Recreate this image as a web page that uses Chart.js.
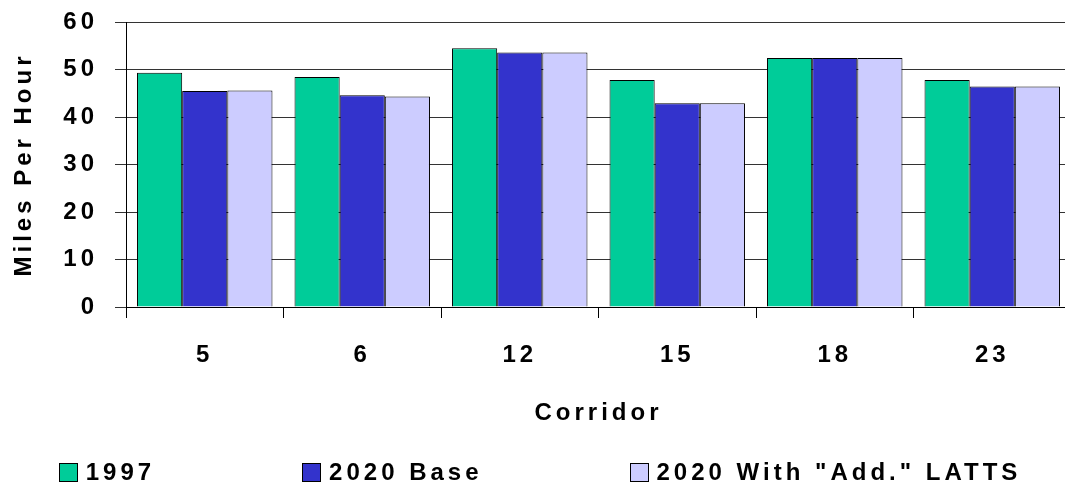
<!DOCTYPE html>
<html>
<head>
<meta charset="utf-8">
<style>
  html, body { margin: 0; padding: 0; background: #fff; overflow: hidden; }
  canvas { display: block; }
</style>
<script src="https://cdn.jsdelivr.net/npm/chart.js@4/dist/chart.umd.min.js"></script>
</head>
<body>
<canvas id="chart" width="1072" height="491" style="width:1072px;height:491px"></canvas>
<script>
// Average corridor speeds (mph)
const corridors = ['5', '6', '12', '15', '18', '23'];
const speed1997 = [49.3, 48.4, 54.5, 47.8, 52.4, 47.8];
const speed2020Base = [45.5, 44.6, 53.6, 42.9, 52.4, 46.4];
const speed2020Latts = [45.6, 44.3, 53.6, 42.9, 52.4, 46.4];
const seriesNames = ['1997', '2020 Base', '2020 With "Add." LATTS'];
const yTickValues = [0, 10, 20, 30, 40, 50, 60];

const seriesColors = ['#00CC99', '#3333CC', '#CCCCFF'];
const FONT_FAMILY = "'Liberation Sans', Arial, Helvetica, sans-serif";
const FONT_SIZE = 24;
const baseFont = { family: FONT_FAMILY, size: FONT_SIZE, weight: 'bold' };
const SPACING = '4px';

// Wide-tracked lettering for every text drawn on the canvas
const tracking = {
  id: 'tracking',
  beforeLayout(chart) { chart.ctx.letterSpacing = SPACING; },
  beforeDraw(chart) { chart.ctx.letterSpacing = SPACING; }
};

// Legend row under the axis title: square swatch + label, evenly gapped
const bottomLegend = {
  id: 'bottomLegend',
  afterDraw(chart, args, opts) {
    const ctx = chart.ctx;
    ctx.save();
    ctx.letterSpacing = SPACING;
    ctx.font = `bold ${FONT_SIZE}px ${FONT_FAMILY}`;
    ctx.textBaseline = 'middle';
    ctx.textAlign = 'left';
    const items = chart.data.datasets.map(ds => ({
      text: ds.label,
      color: ds.backgroundColor,
      width: opts.box + opts.boxGap + ctx.measureText(ds.label).width
    }));
    const total = items.reduce((s, it) => s + it.width, 0) + opts.gap * (items.length - 1);
    let x = opts.centerX - total / 2;
    const y = opts.centerY;
    items.forEach(it => {
      const bx = Math.round(x), by = Math.round(y - opts.box / 2);
      ctx.fillStyle = it.color;
      ctx.fillRect(bx, by, opts.box, opts.box);
      ctx.lineWidth = 1;
      ctx.strokeStyle = '#000';
      ctx.strokeRect(bx + 0.5, by + 0.5, opts.box, opts.box);
      ctx.fillStyle = '#000';
      ctx.fillText(it.text, x + opts.box + opts.boxGap, y + 1);
      x += it.width + opts.gap;
    });
    ctx.restore();
  }
};

const dataSeries = [speed1997, speed2020Base, speed2020Latts];

new Chart(document.getElementById('chart'), {
  type: 'bar',
  data: {
    labels: corridors,
    datasets: dataSeries.map((values, i) => ({
      label: seriesNames[i],
      data: values,
      backgroundColor: seriesColors[i],
      borderColor: '#000',
      borderWidth: 1,
      categoryPercentage: 0.86,
      barPercentage: 1.0
    }))
  },
  options: {
    responsive: false,
    animation: false,
    devicePixelRatio: 1,
    layout: { padding: { top: 22, right: 1, left: 0, bottom: 54 } },
    plugins: {
      legend: { display: false },
      tooltip: { enabled: false },
      bottomLegend: { centerX: 540, centerY: 472, box: 18, boxGap: 9, gap: 147 }
    },
    scales: {
      x: {
        offset: true,
        grid: { offset: true, drawOnChartArea: false, tickLength: 11, color: '#000', lineWidth: 1 },
        border: { color: '#000', width: 1 },
        ticks: { color: '#000', font: baseFont, padding: 23, maxRotation: 0, autoSkip: false },
        title: {
          display: true, text: 'Corridor', color: '#000',
          font: baseFont,
          padding: { top: 0, bottom: 9 }
        },
        afterFit(scale) {
          scale.height = 130;
          scale.paddingLeft = 0;
          scale.paddingRight = 0;
        }
      },
      y: {
        min: 0,
        max: 60,
        afterBuildTicks(scale) { scale.ticks = yTickValues.map(v => ({ value: v })); },
        grid: { color: '#333', lineWidth: 1, tickLength: 11 },
        border: { color: '#000', width: 1 },
        ticks: { color: '#000', font: baseFont, padding: 17 },
        title: {
          display: true, text: 'Miles Per Hour', color: '#000',
          font: baseFont,
          padding: { top: 10, bottom: 0 }
        },
        afterFit(scale) {
          scale.width = 126;
          scale.paddingTop = 0;
          scale.paddingBottom = 0;
        }
      }
    }
  },
  plugins: [tracking, bottomLegend]
});
</script>
</body>
</html>
